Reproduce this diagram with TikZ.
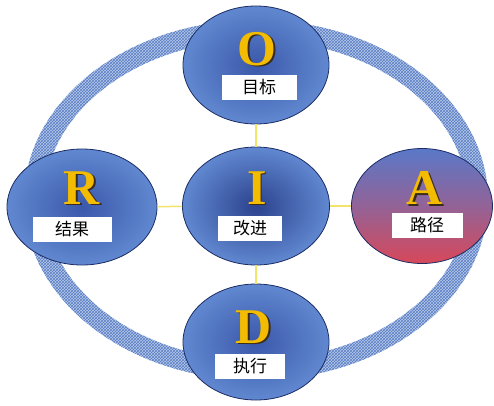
\documentclass[tikz,border=0pt]{standalone}
\usepackage{fontspec}
\setmainfont{Liberation Serif}
\newfontfamily\cjk{Noto Sans CJK SC}
\usetikzlibrary{shapes.geometric,patterns}
\definecolor{ringblue}{HTML}{B6CAEA}
\definecolor{hatchblue}{HTML}{5C7EC4}
\definecolor{navy}{HTML}{1C2C64}
\definecolor{deepblue}{HTML}{3B58AA}
\definecolor{paleblue}{HTML}{6088D0}
\definecolor{coreblue}{HTML}{2C428E}
\definecolor{topblue}{HTML}{5A78C8}
\definecolor{rosered}{HTML}{D8485A}
\definecolor{gold}{HTML}{F4BC00}
\definecolor{umber}{HTML}{3A2C18}
\definecolor{linkyellow}{HTML}{F2E46A}
\tikzset{
  bubble/.style={ellipse, draw=navy, line width=0.8pt, inner sep=0pt,
    inner color=deepblue, outer color=paleblue},
  letter/.style={font=\fontsize{50}{50}\selectfont\bfseries, text=gold, inner sep=0pt},
  lettershd/.style={font=\fontsize{50}{50}\selectfont\bfseries, text=umber, inner sep=0pt},
  tag/.style={fill=white, minimum height=25, inner sep=0pt,
    font=\cjk\fontsize{17}{17}\selectfont},
  link/.style={draw=linkyellow, line width=1.5pt}
}
\begin{document}
\begin{tikzpicture}[x=1pt, y=-1pt]
\useasboundingbox (0,0) rectangle (494,405);
% ring
\fill[ringblue, even odd rule] (256,200) ellipse [x radius=232, y radius=180]
  (256,200) ellipse [x radius=212, y radius=160];
\fill[pattern=crosshatch, pattern color=hatchblue, even odd rule]
  (256,200) ellipse [x radius=232, y radius=180]
  (256,200) ellipse [x radius=212, y radius=160];
% bubbles
\node[bubble, minimum width=146, minimum height=118] (O) at (256,65) {};
\node[bubble, minimum width=147, minimum height=118, inner color=coreblue] (I) at (256,206) {};
\node[bubble, minimum width=150, minimum height=116] (R) at (82,207) {};
\node[bubble, minimum width=141, minimum height=115, top color=topblue,
  bottom color=rosered, middle color=topblue!55!rosered] (A) at (422,206) {};
\node[bubble, minimum width=146, minimum height=116] (D) at (256,342) {};
% links
\draw[link] (O) -- (I);
\draw[link] (I) -- (R);
\draw[link] (I) -- (A);
\draw[link] (I) -- (D);
% letters
\node[lettershd] (Oshd) at (258.5,50.5) {O};
\node[letter] (Oltr) at (257,49) {O};
\node[lettershd] (Ishd) at (258.5,189.5) {I};
\node[letter] (Iltr) at (257,188) {I};
\node[lettershd] (Rshd) at (83.5,189.5) {R};
\node[letter] (Rltr) at (82,188) {R};
\node[lettershd] (Ashd) at (426.5,189.5) {A};
\node[letter] (Altr) at (425,188) {A};
\node[lettershd] (Dshd) at (255.5,328.5) {D};
\node[letter] (Dltr) at (254,327) {D};
% tags
\node[tag, minimum width=75] (Otag) at (259,87) {目标};
\node[tag, minimum width=64] (Itag) at (250,228) {改进};
\node[tag, minimum width=79] (Rtag) at (72,229) {结果};
\node[tag, minimum width=71] (Atag) at (427,225) {路径};
\node[tag, minimum width=70] (Dtag) at (250,366) {执行};
\end{tikzpicture}
\end{document}
